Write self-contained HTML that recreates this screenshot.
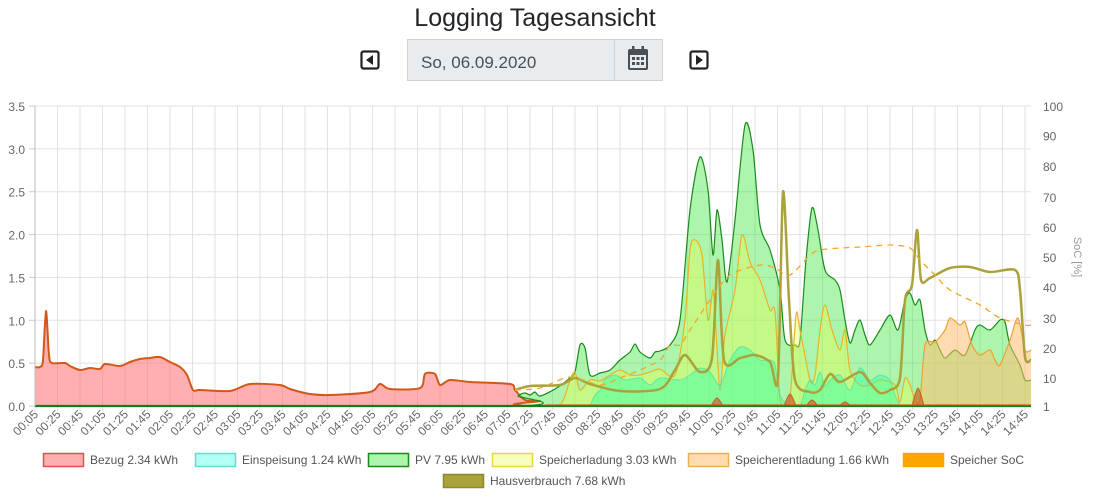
<!DOCTYPE html>
<html><head><meta charset="utf-8">
<style>
html,body{margin:0;padding:0;background:#fff;width:1114px;height:502px;overflow:hidden;font-family:"Liberation Sans",sans-serif;}
svg{position:absolute;left:0;top:0}
</style></head>
<body>
<svg id="s" width="1114" height="502" xmlns="http://www.w3.org/2000/svg">
<text x="535" y="26" text-anchor="middle" font-size="25" fill="#212529" font-family="Liberation Sans, sans-serif">Logging Tagesansicht</text>
<rect x="361.5" y="51.5" width="17" height="17" rx="2" fill="none" stroke="#222" stroke-width="2.2"/>
<path d="M373 55 L366 60 L373 65 Z" fill="#222"/>
<rect x="690.5" y="51.5" width="17" height="17" rx="2" fill="none" stroke="#222" stroke-width="2.2"/>
<path d="M696 55 L703 60 L696 65 Z" fill="#222"/>
<rect x="407.5" y="39.5" width="255" height="41" fill="#e9ecef" stroke="#ced4da"/>
<line x1="614.5" y1="40" x2="614.5" y2="80" stroke="#ced4da"/>
<text x="421" y="68" font-size="17" fill="#495057">So, 06.09.2020</text>
<rect x="628" y="49" width="20" height="21" rx="2" fill="#495057"/>
<rect x="630" y="55" width="16" height="13" fill="#e9ecef"/>
<rect x="632" y="46" width="2.5" height="5" fill="#495057"/><rect x="641.5" y="46" width="2.5" height="5" fill="#495057"/>
<g fill="#495057"><rect x="632" y="57" width="3" height="3"/><rect x="636.5" y="57" width="3" height="3"/><rect x="641" y="57" width="3" height="3"/><rect x="632" y="62" width="3" height="3"/><rect x="636.5" y="62" width="3" height="3"/><rect x="641" y="62" width="3" height="3"/></g>
<g id="grid"></g>
<g id="series"></g>
<g id="axes"></g>
<g id="legend" font-size="12" fill="#555"></g>
</svg>
<script>
var NS="http://www.w3.org/2000/svg";
function el(p,t,a,txt){var e=document.createElementNS(NS,t);for(var k in a)e.setAttribute(k,a[k]);if(txt!=null)e.textContent=txt;p.appendChild(e);return e;}
var L=35,R=1031,T=106,B=406;
var g=document.getElementById('grid'),ax=document.getElementById('axes'),se=document.getElementById('series');
for(var i=0;i<=7;i++){var y=B-i*(B-T)/7;el(g,'line',{x1:L,x2:R,y1:y,y2:y,stroke:'#e2e2e2','stroke-width':1});
el(ax,'text',{x:25,y:y+5,'text-anchor':'end','font-size':12,fill:'#666'},(i*0.5).toFixed(1));
el(ax,'line',{x1:L-6,x2:L,y1:y,y2:y,stroke:'#ccc'});}
var soc=[[100,106],[90,135.5],[80,166],[70,197],[60,227],[50,257],[40,287],[30,318],[20,348],[10,378],[1,406]];
soc.forEach(function(s){el(ax,'text',{x:1043,y:s[1]+5,'font-size':12,fill:'#666'},String(s[0]));});
el(ax,'text',{x:1074,y:257,'font-size':11,fill:'#999',transform:'rotate(90 1074 257)','text-anchor':'middle'},'SoC [%]');
var step=22.5;
for(var i=0;i<45;i++){var x=L+i*step;el(g,'line',{x1:x,x2:x,y1:T,y2:B+5,stroke:'#e2e2e2'});
var m=5+i*20,h=Math.floor(m/60),mm=m%60;var lab=(h<10?'0':'')+h+':'+(mm<10?'0':'')+mm;
el(ax,'text',{x:x+4,y:415,'text-anchor':'end','font-size':12,fill:'#666',transform:'rotate(-45 '+(x+4)+' 415)'},lab);}
el(ax,'line',{x1:L,x2:L,y1:T,y2:B,stroke:'#bbb'});
function path(pts){var d='M'+pts[0][0]+' '+pts[0][1];for(var i=0;i<pts.length-1;i++){var p0=pts[i-1]||pts[i],p1=pts[i],p2=pts[i+1],p3=pts[i+2]||p2;var t=0.14;
var c1x=p1[0]+(p2[0]-p0[0])*t,c1y=p1[1]+(p2[1]-p0[1])*t,c2x=p2[0]-(p3[0]-p1[0])*t,c2y=p2[1]-(p3[1]-p1[1])*t;
c1y=Math.min(c1y,B);c2y=Math.min(c2y,B);
d+=' C'+c1x.toFixed(1)+' '+c1y.toFixed(1)+' '+c2x.toFixed(1)+' '+c2y.toFixed(1)+' '+p2[0]+' '+p2[1];}return d;}
function area(pts,fill,stroke,sw,dash){var d=path(pts);if(fill)el(se,'path',{d:d+' L'+pts[pts.length-1][0]+' '+B+' L'+pts[0][0]+' '+B+' Z',fill:fill,stroke:'none'});
var a={d:d,fill:'none',stroke:stroke,'stroke-width':sw};if(dash)a['stroke-dasharray']=dash;el(se,'path',a);}
var bez=[[35,367],[40,367],[43,360],[46,311],[49,355],[52,363],[65,363],[70,366],[80,370],[90,368],[100,369],[105,364],[120,366],[130,362],[140,359],[150,358],[160,357],[170,362],[180,367],[187,375],[193,390],[200,390],[230,391],[250,384],[280,385],[290,389],[310,394],[330,395],[370,392],[380,384],[390,389],[420,388],[425,374],[435,374],[440,385],[450,380],[470,382],[510,384],[515,390],[525,400],[540,401],[545,406],[1031,406]];
var pv=[[35,406],[512,406],[518,396],[525,393],[530,395],[535,392],[540,396],[555,389],[570,378],[575,372],[580,345],[585,348],[590,375],[600,373],[610,370],[620,360],[630,352],[635,344],[640,352],[650,358],[655,352],[660,351],[670,345],[680,320],[690,210],[700,157],[708,190],[713,255],[717,210],[722,240],[727,282],[735,220],[745,125],[753,150],[760,225],[770,250],[780,290],[785,340],[795,345],[800,340],[806,260],[812,208],[818,230],[825,270],[835,280],[840,290],[845,320],[850,343],[855,330],[860,320],[865,335],[870,345],[880,330],[890,315],[898,330],[905,300],[910,293],[915,305],[920,300],[925,330],[930,345],[935,340],[940,350],[945,358],[955,350],[965,355],[975,330],[980,325],[990,330],[1000,320],[1005,322],[1010,345],[1020,365],[1025,380],[1031,380]];
var sl=[[560,406],[565,396],[570,380],[575,372],[580,390],[590,380],[600,381],[610,375],[620,370],[630,375],[640,375],[650,372],[660,369],[675,375],[685,320],[690,250],[695,240],[702,255],[708,320],[713,290],[716,330],[720,390],[725,335],[735,290],[742,235],[750,262],[760,280],[770,310],[775,312],[780,400],[785,406],[790,400],[796,315],[800,330],[810,380],[815,375],[820,330],[825,305],[832,330],[840,350],[845,330],[850,370],[860,385],[870,385],[880,380],[895,385],[900,402],[905,378],[910,385],[915,400],[920,406]];
var sen=[[915,406],[920,400],[925,345],[935,342],[945,330],[950,318],[960,325],[965,322],[972,345],[980,355],[990,350],[995,360],[1000,365],[1010,340],[1018,318],[1025,350],[1031,350]];
var ein=[[590,406],[595,395],[600,390],[605,380],[615,375],[625,380],[640,378],[650,385],[660,378],[680,380],[690,375],[700,368],[710,372],[720,385],[730,360],[740,347],[750,350],[760,360],[770,360],[775,365],[780,395],[790,406],[800,406],[805,390],[810,380],[815,385],[820,372],[825,386],[830,380],[840,375],[850,390],[860,368],[870,380],[880,375],[890,380],[895,395],[900,406]];
var hv=[[515,390],[530,386],[560,385],[575,378],[590,384],[620,391],[660,389],[675,370],[685,355],[700,372],[712,358],[718,260],[724,360],[740,358],[755,355],[770,362],[778,378],[783,192],[789,300],[795,380],[810,392],[820,390],[830,374],[840,382],[860,372],[870,383],[880,393],[890,390],[900,378],[905,300],[912,285],[917,230],[921,280],[930,278],[950,268],[970,267],[990,272],[1015,270],[1020,290],[1025,357],[1031,360]];
var soc2=[[515,390],[540,388],[570,377],[600,385],[620,378],[640,370],[660,360],[670,345],[680,345],[690,330],[700,315],[710,300],[730,275],[760,265],[775,268],[790,275],[810,255],[820,250],[840,248],[860,247],[890,245],[910,248],[920,260],[935,275],[950,290],[980,305],[1000,318],[1025,325],[1031,325]];
area(bez,'rgba(255,110,110,0.55)','#d05818',2);
area(pv,'rgba(60,230,60,0.42)','#1a8a1a',1.2);
area(sl,'rgba(230,255,80,0.4)','#e8b428',1.2);
area(sen,'rgba(255,190,110,0.55)','#f0a030',1.2);
area(ein,'rgba(50,255,170,0.45)','rgba(50,220,160,0.6)',1);
area(hv,null,'#aaa23a',2.5);
area(soc2,null,'#f5a623',1.3,'6,5');
[[717,8],[790,12],[812,6],[918,18],[845,4]].forEach(function(b){area([[b[0]-6,406],[b[0],406-b[1]],[b[0]+6,406]],'rgba(200,100,40,0.7)','#c85a1a',1);});
el(se,'line',{x1:L,x2:R,y1:406,y2:406,stroke:'#1a7a1a','stroke-width':2.2});
el(se,'line',{x1:545,x2:R,y1:405,y2:405,stroke:'#d05818','stroke-width':1.2});
var lg=document.getElementById('legend');
var items=[[43,453,'rgba(255,110,110,0.55)','#e05050','Bezug 2.34 kWh'],[195,453,'rgba(100,255,230,0.5)','#60e0d0','Einspeisung 1.24 kWh'],[368,453,'rgba(60,230,60,0.42)','#1a8a1a','PV 7.95 kWh'],[492,453,'rgba(240,255,120,0.5)','#e8d840','Speicherladung 3.03 kWh'],[688,453,'rgba(255,190,110,0.55)','#f0b050','Speicherentladung 1.66 kWh'],[903,453,'#ffa500','#ffa500','Speicher SoC'],[443,474,'#aaa23a','#8a8a2a','Hausverbrauch 7.68 kWh']];
items.forEach(function(it){el(lg,'rect',{x:it[0]+0.5,y:it[1]+0.5,width:40,height:13,fill:it[2],stroke:it[3],'stroke-width':1.5});
el(lg,'text',{x:it[0]+47,y:it[1]+11,'font-size':12,fill:'#555'},it[4]);});
</script>
</body></html>
